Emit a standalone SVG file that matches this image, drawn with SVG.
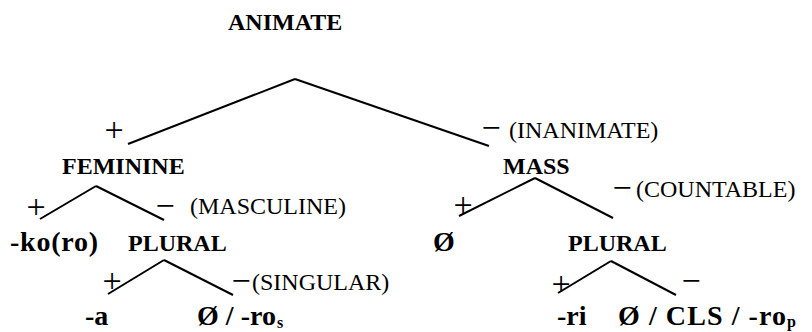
<svg xmlns="http://www.w3.org/2000/svg" width="812" height="332" viewBox="0 0 812 332">
<style>
.b{font-family:"Liberation Serif","Times New Roman",serif;font-weight:bold;font-size:24px;fill:#000}
.lf{font-family:"Liberation Serif","Times New Roman",serif;font-weight:bold;font-size:28px;fill:#000}
.sub{font-family:"Liberation Serif","Times New Roman",serif;font-weight:bold;font-size:16px;fill:#000}
.r{font-family:"Liberation Serif","Times New Roman",serif;font-size:24px;fill:#000}
.s{font-family:"Liberation Serif","Times New Roman",serif;font-size:34px;fill:#000;text-anchor:middle}
.c line{stroke:#000;stroke-width:2;stroke-linecap:butt}
</style>
<rect width="812" height="332" fill="#fff"/>
<g class="c" id="connectors">
<line x1="295" y1="79" x2="128" y2="144"/>
<line x1="295" y1="79" x2="489" y2="146"/>
<line x1="96" y1="186" x2="40" y2="219"/>
<line x1="96" y1="186" x2="164" y2="220"/>
<line x1="164" y1="260" x2="108" y2="294"/>
<line x1="164" y1="260" x2="233" y2="295"/>
<line x1="535" y1="178" x2="459" y2="216"/>
<line x1="535" y1="178" x2="613" y2="218"/>
<line x1="611" y1="261" x2="558" y2="293"/>
<line x1="611" y1="261" x2="676" y2="295"/>
</g>
<g id="animate"><text class="b" x="228" y="30">ANIMATE</text></g>
<g id="signs">
<text class="s" x="114" y="141">+</text>
<text class="s" x="491" y="139">−</text>
<text class="s" x="36" y="218">+</text>
<text class="s" x="165" y="217">−</text>
<text class="s" x="112" y="292">+</text>
<text class="s" x="241" y="292">−</text>
<text class="s" x="463" y="216">+</text>
<text class="s" x="622" y="199">−</text>
<text class="s" x="561" y="295">+</text>
<text class="s" x="691" y="292">−</text>
</g>
<g id="inanimate"><text class="r" x="509" y="138">(INANIMATE)</text></g>
<g id="feminine"><text class="b" x="62" y="174">FEMININE</text></g>
<g id="mass"><text class="b" x="503" y="174">MASS</text></g>
<g id="masculine"><text class="r" x="190" y="214">(MASCULINE)</text></g>
<g id="koro"><text class="lf" x="10" y="251" textLength="88" lengthAdjust="spacing">-ko(ro)</text></g>
<g id="plural-left"><text class="b" x="128" y="251">PLURAL</text></g>
<g id="singular"><text class="r" x="252" y="290">(SINGULAR)</text></g>
<g id="a"><text class="lf" x="85" y="325">-a</text></g>
<g id="ros"><text class="lf" x="197" y="325" textLength="79" lengthAdjust="spacing">Ø / -ro</text><text class="sub" x="277" y="328">s</text></g>
<g id="countable"><text class="r" x="636" y="197">(COUNTABLE)</text></g>
<g id="null"><text class="lf" x="433" y="251">Ø</text></g>
<g id="plural-right"><text class="b" x="568" y="251">PLURAL</text></g>
<g id="ri"><text class="lf" x="557" y="325">-ri</text></g>
<g id="rop"><text class="lf" x="618" y="325" textLength="168" lengthAdjust="spacing">Ø / CLS / -ro</text><text class="sub" x="787" y="327">p</text></g>
</svg>
